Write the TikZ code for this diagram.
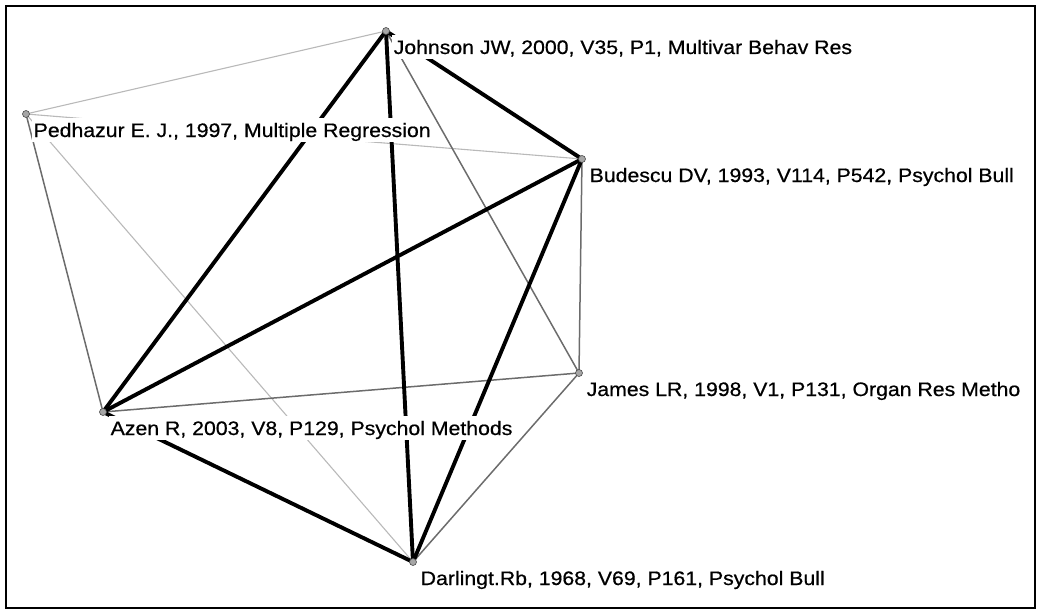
\documentclass[tikz,border=0pt]{standalone}
\usepackage{fontspec}
\newfontfamily\labfont[FakeStretch=1.09,FakeBold=0.6]{Liberation Sans}
\begin{document}
\begin{tikzpicture}[x=1pt,y=-1pt,
  vtx/.style={circle,inner sep=0pt,minimum size=7pt,fill=gray!70,draw=gray!60!black,line width=0.6pt},
  lab/.style={anchor=base west,fill=white,inner xsep=1.5pt,inner ysep=0pt,text height=19pt,text depth=5pt,font=\labfont\fontsize{19.5}{21}\selectfont},
  strong/.style={line width=3.9pt,black},
  mid/.style={line width=1.5pt,gray!85!black},
  weak/.style={line width=1.1pt,gray!55}]
\useasboundingbox (0,0) rectangle (1037,610);
\draw[line width=2pt] (6,6) rectangle (1035,608);
% vertices
\coordinate (J) at (386,31);
\coordinate (P) at (26,114);
\coordinate (B) at (582,159);
\coordinate (L) at (579,373);
\coordinate (A) at (103,412);
\coordinate (D) at (413,562);
% weak edges
\draw[weak] (P) -- (J);
\draw[weak] (P) -- (B);
\draw[weak] (P) -- (D);
% mid edges
\draw[mid] (P) -- (A);
\draw[mid] (J) -- (L);
\draw[mid] (B) -- (L);
\draw[mid] (A) -- (L);
\draw[mid] (L) -- (D);
% strong edges
\draw[strong] (J) -- (A);
\draw[strong] (J) -- (D);
\draw[strong] (J) -- (B);
\draw[strong] (B) -- (A);
\draw[strong] (B) -- (D);
\draw[strong] (A) -- (D);
% labels
\node[lab] (lJ) at (392,54) {Johnson JW, 2000, V35, P1, Multivar Behav Res};
\node[lab] (lP) at (32,137) {Pedhazur E. J., 1997, Multiple Regression};
\node[lab] (lB) at (588,182) {Budescu DV, 1993, V114, P542, Psychol Bull};
\node[lab] (lL) at (585,396) {James LR, 1998, V1, P131, Organ Res Metho};
\node[lab] (lA) at (109,435) {Azen R, 2003, V8, P129, Psychol Methods};
\node[lab] (lD) at (419,585) {Darlingt.Rb, 1968, V69, P161, Psychol Bull};
% dots
\foreach \v in {J,P,B,L,A,D} \node[vtx] (n\v) at (\v) {};
\end{tikzpicture}
\end{document}
